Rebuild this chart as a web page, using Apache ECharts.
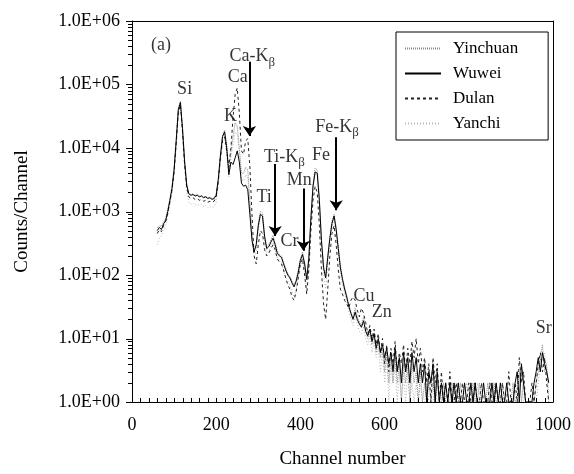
<!DOCTYPE html>
<html>
<head>
<meta charset="utf-8">
<script src="https://cdn.jsdelivr.net/npm/echarts@6/dist/echarts.min.js"></script>
<style>
  html, body { margin: 0; background: #fff; }
  #chart { width: 574px; height: 474px; }
</style>
</head>
<body>
<div id="chart"></div>
<script>
// spectra, one value every 5 channels starting at channel 60
const chStart = 60, chStep = 5;

const yinchuan = [550,600,580,680,780,1100,1600,2500,5000,14000, 42000,55000,21000,6500,2700,1900,1850,1900,1800,1850,
  1750,1800,1700,1750,1650,1700,1600,1650,1900,3400, 8000,16000,19000,11000,4500,9000,15000,25000,22000,10000,
  4000,4000,5000,4500,1500,450,250,280,650,1000, 950,420,280,300,360,420,320,240,210,200,
  160,130,105,95,80,70,85,120,180,230, 160,90,200,850,2700,4800,4500,1700,380,140,
  95,200,400,700,900,560,280,140,90,65, 48,34,26,21,30,22,18,16,22,14,
  10,13,8,11,6,9,5,7,3,6, 2,5,2,5,2,4,1,4,2,4, 1,4,2,3,1,3,1,2,1,2,
  1,2,1,2,1,1,2,1,1,1, 2,1,1,1,2,1,1,1,1,1, 2,1,1,2,1,1,1,2,1,1,
  2,1,1,1,2,1,1,1,1,2, 1,1,3,1,2,1,1,1,1,1, 2,3,5,8,3,4,1];

const wuwei = [500,560,520,640,720,1000,1500,2300,4500,13000, 40000,52000,20000,6000,2600,1900,1800,1850,1750,1800,
  1700,1750,1650,1700,1600,1650,1550,1600,1800,3200, 7500,15000,18000,10000,3800,6000,5500,7000,9000,6000,
  2800,2500,2600,2200,900,350,230,300,600,900, 850,400,260,280,330,380,300,220,200,190,
  150,120,100,90,75,65,80,110,170,210, 150,85,180,800,2500,4200,4000,1500,350,130,
  90,190,380,650,850,520,260,130,85,60, 45,32,25,20,26,20,17,15,19,13,
  11,14,9,12,7,10,6,8,5,7, 4,6,3,7,3,5,2,6,3,5, 2,6,3,5,2,4,2,4,1,3,
  2,4,1,3,1,2,1,2,1,2, 1,2,1,2,1,1,2,1,1,2, 1,2,1,1,1,2,1,1,1,2,
  1,2,1,2,1,1,2,1,1,1, 2,3,1,4,2,1,1,1,1,2, 3,5,3,6,4,3,2];

const dulan = [450,520,480,600,700,950,1400,2200,4200,12000, 36000,48000,18000,5500,2400,1700,1600,1650,1550,1600,
  1500,1550,1450,1500,1400,1450,1400,1450,1700,3000, 7000,13000,15000,9000,5000,10000,30000,70000,88000,35000,
  9000,8000,13000,14000,5000,900,200,150,300,500, 450,250,200,220,260,300,250,180,160,150,
  120,90,70,60,45,40,55,90,150,180, 100,50,120,500,1500,2500,2000,600,120,35,
  20,60,200,450,600,300,120,60,50,40, 35,30,40,45,40,28,22,30,25,18,
  12,16,10,14,8,12,6,10,4,8, 3,7,4,9,3,6,4,8,3,7, 4,9,5,10,4,7,3,5,2,4,
  1,5,2,4,1,3,1,2,1,3, 1,1,2,1,1,2,1,1,2,1, 1,2,1,1,2,1,1,1,2,1,
  1,2,1,1,2,1,1,3,1,1, 2,1,5,2,3,1,1,1,2,1, 2,4,6,3,5,2,1];

const yanchi = [300,380,420,500,600,850,1300,2000,4000,11000, 34000,45000,17000,5000,2100,1400,1300,1350,1250,1300,
  1250,1300,1200,1250,1150,1200,1150,1200,1400,2600, 6000,12000,14000,8000,3500,7000,11000,18000,16000,8000,
  3200,3000,3800,3300,1200,380,200,230,500,800, 750,330,220,240,290,330,260,190,170,160,
  120,95,80,70,55,45,60,90,140,170, 110,60,150,700,2200,4000,3600,1300,280,100,
  60,150,320,560,750,450,220,110,70,50, 38,27,20,16,22,17,13,12,15,10,
  8,11,6,9,5,7,3,6,2,5, 1,4,2,4,1,3,1,3,1,3, 1,2,1,2,1,2,1,1,2,1,
  1,1,2,1,1,2,1,1,1,1, 1,2,1,1,1,1,1,2,1,1, 1,1,2,1,1,1,1,1,2,1,
  1,2,1,1,1,1,1,1,1,1, 1,2,1,3,1,1,1,1,1,1, 1,2,4,5,6,3,2];

// peak labels: text (part after "_" is subscript), channel, counts
const labels = [
  ['(a)', 69, 417000], ['Si', 125, 83000], ['K', 234, 31600], ['Ca', 251, 129000],
  ['Ca-K_β', 286, 275000], ['Ti', 314, 1660], ['Ti-K_β', 362, 7200], ['Mn', 397, 3160],
  ['Fe', 449, 7800], ['Fe-K_β', 487, 21400], ['Cr', 374, 340], ['Cu', 551, 47],
  ['Zn', 593, 26], ['Sr', 978, 14.5]
];
// arrows: channel, from counts, to counts
const arrows = [[279, 229000, 15500], [340, 5600, 410], [407, 2300, 240], [485, 14800, 1050]];

const FONT = 'Liberation Serif';
const BLACK = { color: '#000', width: 1 };

// tick marks: channel every 20 on x, decades + 2..9 on y
const xTicks = [];
for (let c = 0; c <= 1000; c += 20) xTicks.push(c);
const yTicks = [];
for (let d = 1; d <= 1000000; d *= 10) {
  yTicks.push([d, 1]);
  if (d < 1000000) for (let m = 2; m <= 9; m++) yTicks.push([m * d, 0]);
}

function pairs(vals) {
  return vals.map((v, i) => [chStart + i * chStep, v]);
}

function line(name, vals, color, type, width, z) {
  return {
    name: name, type: 'line', data: pairs(vals), symbol: 'none', showSymbol: false,
    lineStyle: { color: color, type: type, width: width }, itemStyle: { color: color },
    z: z, animation: false
  };
}

function labelText(t) {
  const p = t.split('_');
  return p.length > 1 ? '{t|' + p[0] + '}{s|' + p[1] + '}' : '{t|' + p[0] + '}';
}

function tickLine(x1, y1, x2, y2) {
  return { type: 'line', shape: { x1: x1, y1: y1, x2: x2, y2: y2 }, style: { stroke: '#000', lineWidth: 1 } };
}

// plain axis used only to close the frame (top / right)
function frameAxis(extra) {
  return Object.assign({
    axisLine: { show: true, onZero: false, lineStyle: BLACK },
    axisTick: { show: false }, axisLabel: { show: false },
    splitLine: { show: false }
  }, extra);
}

const chart = echarts.init(document.getElementById('chart'));
chart.setOption({
  animation: false,
  grid: { left: 132, right: 19, top: 21, bottom: 69 },
  legend: {
    data: ['Yinchuan', 'Wuwei', 'Dulan', 'Yanchi'],
    orient: 'vertical', left: 396, top: 32,
    itemWidth: 36, itemHeight: 14, itemGap: 8,
    padding: [8, 30, 8, 8],
    borderColor: '#000', borderWidth: 1,
    itemStyle: { opacity: 0 },
    textStyle: { fontFamily: FONT, fontSize: 17, color: '#000', padding: [0, 0, 0, 7] }
  },
  xAxis: [{
    type: 'value', min: 0, max: 1000, interval: 200,
    axisLine: { show: true, onZero: false, lineStyle: BLACK },
    axisTick: { show: false },
    splitLine: { show: false },
    axisLabel: { fontFamily: FONT, fontSize: 18, color: '#000', margin: 14, formatter: v => String(v) },
    name: 'Channel number', nameLocation: 'middle', nameGap: 48,
    nameTextStyle: { fontFamily: FONT, fontSize: 19, color: '#000' }
  }, frameAxis({ type: 'value', min: 0, max: 1000, position: 'top' })],
  yAxis: [{
    type: 'log', logBase: 10, min: 1, max: 1000000,
    axisLine: { show: true, onZero: false, lineStyle: BLACK },
    axisTick: { show: false },
    splitLine: { show: false },
    axisLabel: {
      fontFamily: FONT, fontSize: 18, color: '#000', margin: 12,
      formatter: v => '1.0E+' + String(Math.round(Math.log10(v))).padStart(2, '0')
    },
    name: 'Counts/Channel', nameLocation: 'middle', nameGap: 100, nameRotate: 90,
    nameTextStyle: { fontFamily: FONT, fontSize: 19, color: '#000' }
  }, frameAxis({ type: 'log', min: 1, max: 1000000, position: 'right' })],
  series: [
    line('Yanchi', yanchi, '#b4b4b4', [1, 2], 1, 1),
    line('Yinchuan', yinchuan, '#8a8a8a', [1, 1], 1, 2),
    line('Dulan', dulan, '#222', [3, 3], 1, 3),
    line('Wuwei', wuwei, '#000', 'solid', 1, 4),
    {
      // x ticks pointing up into the plot
      type: 'custom', silent: true, clip: false, z: 20,
      data: xTicks.map(c => [c, 1]),
      renderItem: (params, api) => {
        const p = api.coord([api.value(0), api.value(1)]);
        const x = Math.round(p[0]) + 0.5, y = Math.round(p[1]);
        return tickLine(x, y, x, y - 4);
      }
    },
    {
      // y ticks pointing out to the left
      type: 'custom', silent: true, clip: false, z: 20,
      data: yTicks.map(t => [0, t[0], t[1]]),
      renderItem: (params, api) => {
        const p = api.coord([api.value(0), api.value(1)]);
        const x = Math.round(p[0]), y = Math.round(p[1]) + 0.5;
        return tickLine(x, y, x - (api.value(2) ? 6 : 4), y);
      }
    },
    {
      type: 'scatter', silent: true, symbolSize: 0, z: 10,
      data: labels.map(l => ({ name: l[0], value: [l[1], l[2]] })),
      label: {
        show: true, position: 'inside', color: '#000',
        formatter: p => labelText(p.name),
        rich: {
          t: { fontFamily: FONT, fontSize: 18, color: '#000', lineHeight: 24 },
          s: { fontFamily: FONT, fontSize: 13, color: '#000', lineHeight: 14, verticalAlign: 'bottom' }
        }
      },
      markLine: {
        silent: true, animation: false,
        symbol: ['none', 'arrow'], symbolSize: 10,
        label: { show: false },
        itemStyle: { color: '#000' },
        lineStyle: { color: '#000', width: 2, type: 'solid' },
        data: arrows.map(a => [{ coord: [a[0], a[1]] }, { coord: [a[0], a[2]] }])
      }
    }
  ]
});
</script>
</body>
</html>
